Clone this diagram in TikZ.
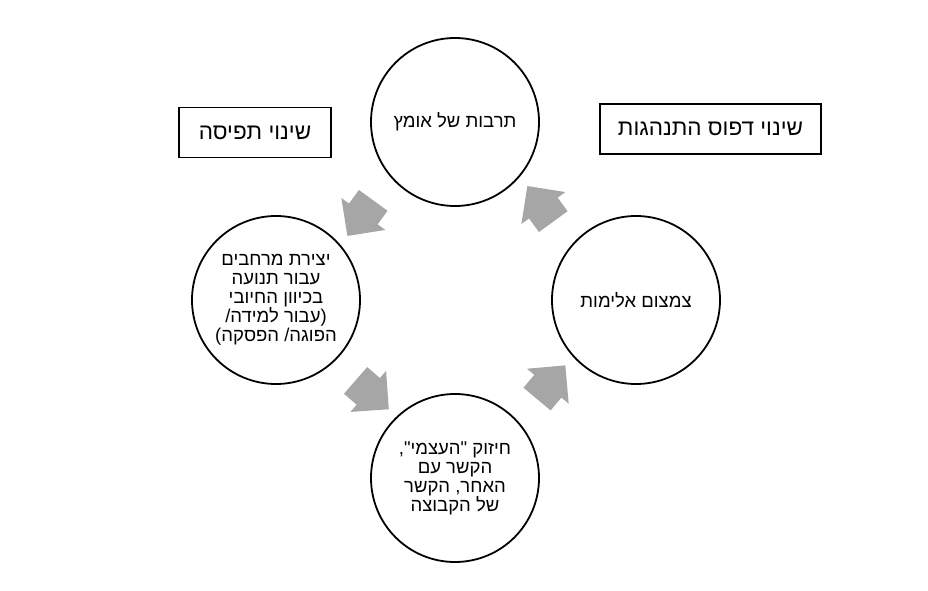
\documentclass[tikz,border=0pt]{standalone}
\usepackage{fontspec}
\usetikzlibrary{shapes.arrows,calc}
\newfontfamily\hebfont[Script=Hebrew]{Liberation Sans}
\TeXXeTstate=1
\newcommand\rl[1]{\beginR #1\endR}
\begin{document}
\begin{tikzpicture}[x=1pt,y=-1pt,
  stage/.style={draw, line width=1.8pt, circle, minimum size=168pt, inner sep=0pt, align=center, font=\hebfont\fontsize{18.5}{19}\selectfont},
  shift box/.style={draw, line width=1.8pt, minimum height=50pt, inner sep=0pt, font=\hebfont\fontsize{22.5}{26}\selectfont},
  turn/.style={single arrow, fill=black!35, draw=none, minimum height=44pt, single arrow head extend=9.5pt, single arrow tip angle=90, inner xsep=0pt, inner ysep=17.5pt}]
\useasboundingbox (0,0) rectangle (928,591);
\node[stage] (courage) at (455,122) {\rl{תרבות של אומץ}};
\node[stage] (space) at (276,300) {\rl{יצירת מרחבים}\\ \rl{עבור תנועה}\\ \rl{בכיוון החיובי}\\ \rl{(עבור למידה/}\\ \rl{הפוגה/ הפסקה)}};
\node[stage] (fewer) at (636,300) {\rl{צמצום אלימות}};
\node[stage] (bond) at (455,478) {\rl{חיזוק "העצמי",}\\ \rl{הקשר עם}\\ \rl{האחר, הקשר}\\ \rl{של הקבוצה}};
\node[shift box, minimum width=152pt] (view) at (255,132.5) {\rl{שינוי תפיסה}};
\node[shift box, minimum width=221pt] (habit) at (710.5,129) {\rl{שינוי דפוס התנהגות}};
\node[turn, rotate=234] (a1) at ($(courage)!0.5!(space)$) {};
\node[turn, rotate=319] (a2) at ($(space)!0.5!(bond)$) {};
\node[turn, rotate=50] (a3) at ($(bond)!0.5!(fewer)$) {};
\node[turn, rotate=126] (a4) at ($(fewer)!0.5!(courage)$) {};
\end{tikzpicture}
\end{document}
